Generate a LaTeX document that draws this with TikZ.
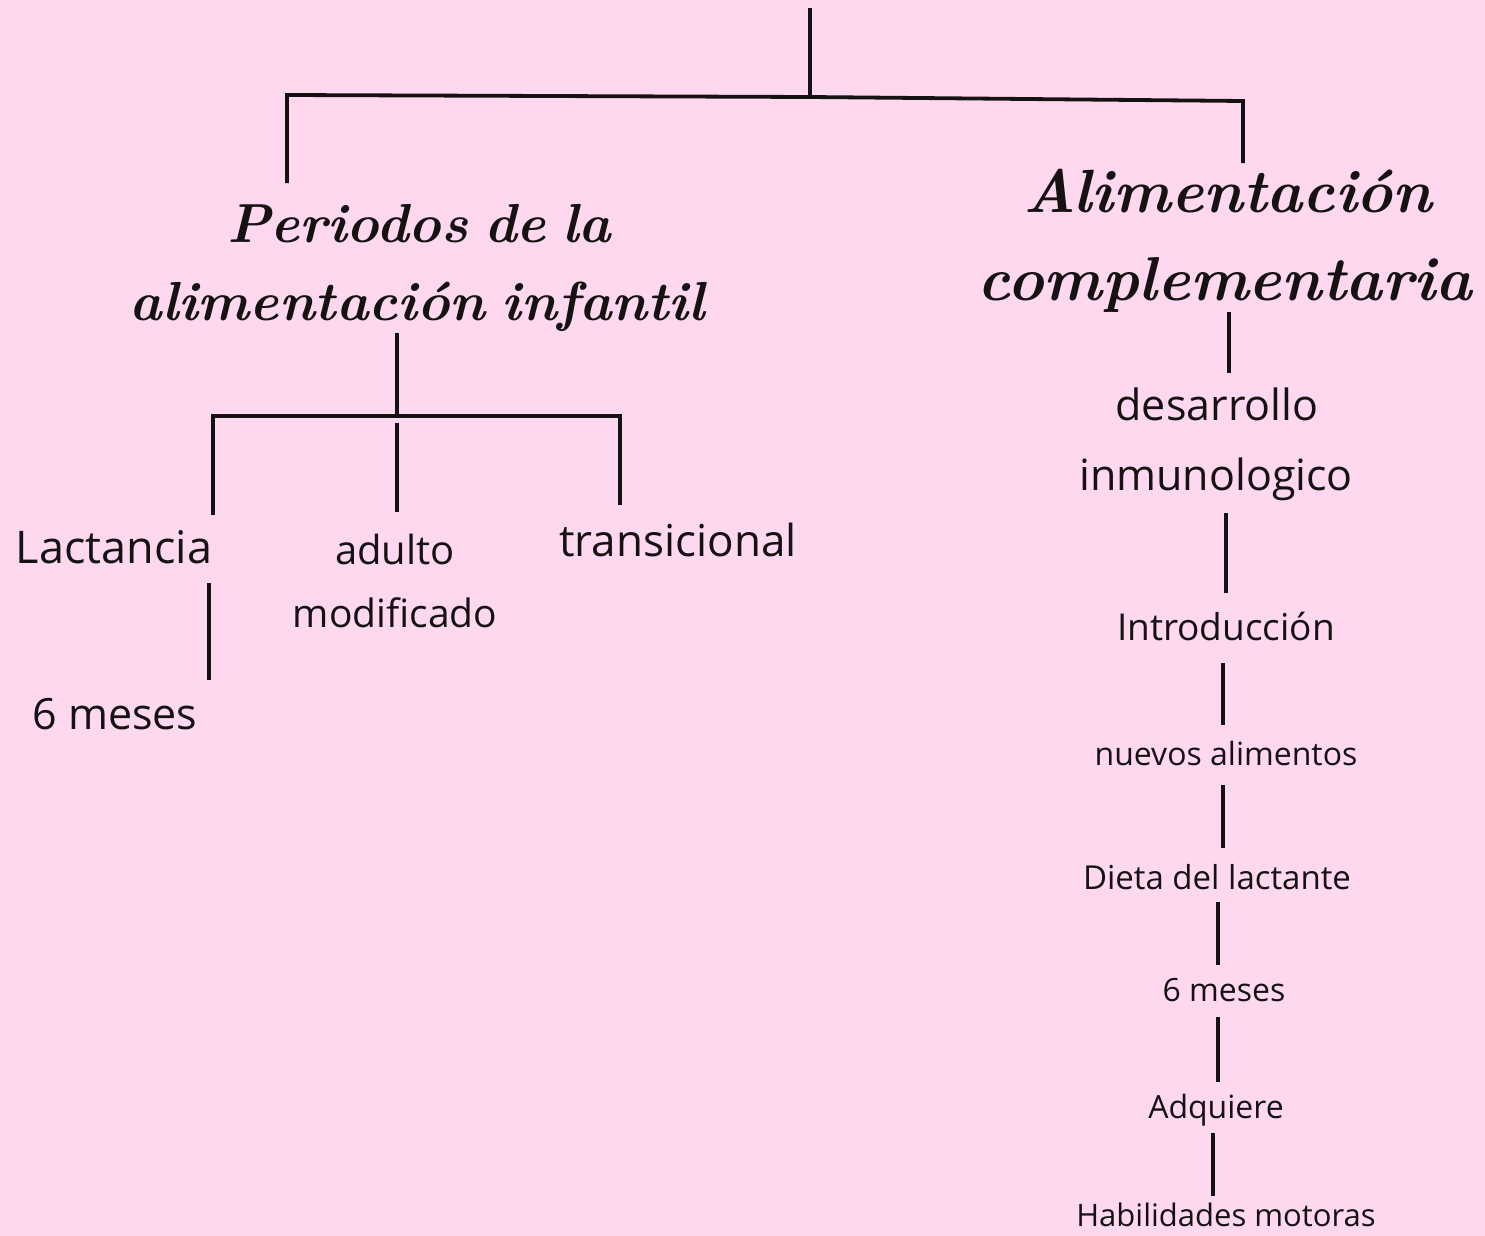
\documentclass[tikz,border=0pt]{standalone}
\usepackage{fontspec}
\newfontfamily\bodyfont{Open Sans}
\definecolor{bgpink}{HTML}{FDD8EE}
\definecolor{ink}{HTML}{161214}
\begin{document}
\begin{tikzpicture}[x=1pt,y=-1pt,
  ln/.style={draw=ink,line width=3.8pt},
  lnr/.style={draw=ink,line width=4.6pt},
  head/.style={anchor=base,inner sep=0pt,text=ink,font=\fontsize{#1}{#1}\selectfont\bfseries\itshape},
  body/.style={anchor=base,inner sep=0pt,text=ink,font=\bodyfont\fontsize{#1}{#1}\selectfont}]
\fill[bgpink] (0,0) rectangle (1485,1236);
\useasboundingbox (0,0) rectangle (1485,1236);
% headings
\node[head=55] (per1) at (419,242) {Periodos\hspace{-0.12em} de\hspace{-0.12em} la};
\node[head=55] (per2) at (417,320) {alimentación\hspace{-0.12em} infantil};
\node[head=61] (ali1) at (1228,212) {Alimentación};
\node[head=62] (ali2) at (1225,300) {complementaria};
% left items
\node[body=45] (lact) at (114,563) {Lactancia};
\node[body=40] (adul) at (395,564) {adulto};
\node[body=39] (modi) at (395,627) {modificado};
\node[body=44] (tran) at (678,556) {transicional};
\node[body=43] (seis1) at (115,729) {6 meses};
% right column
\node[body=43] (desa) at (1217,420) {desarrollo};
\node[body=43] (inmu) at (1216,490) {inmunologico};
\node[body=37] (intr) at (1226,640) {Introducción};
\node[body=32] (nuev) at (1226,765) {nuevos alimentos};
\node[body=33] (diet) at (1217,889) {Dieta del lactante};
\node[body=32] (seis2) at (1224,1001) {6 meses};
\node[body=32] (adqu) at (1216,1118) {Adquiere};
\node[body=31] (habi) at (1226,1226) {Habilidades motoras};
% connector points
\coordinate (top) at (810,8);
\coordinate (mid) at (810,97);
\coordinate (hl) at (287,95);
\coordinate (hr) at (1243,101);
\coordinate (perT) at (287,183);
\coordinate (aliT) at (1243,163);
\coordinate (perB) at (397,333);
\coordinate (subM) at (397,416);
\coordinate (subL) at (213,416);
\coordinate (subR) at (620,416);
\coordinate (lactT) at (213,515);
\coordinate (adulA) at (397,423);
\coordinate (adulT) at (397,512);
\coordinate (tranT) at (620,505);
\coordinate (lactB) at (209,583);
\coordinate (seisT) at (209,680);
\coordinate (r1a) at (1229,312); \coordinate (r1b) at (1229,373);
\coordinate (r2a) at (1226,513); \coordinate (r2b) at (1226,593);
\coordinate (r3a) at (1223,663); \coordinate (r3b) at (1223,725);
\coordinate (r4a) at (1223,785); \coordinate (r4b) at (1223,848);
\coordinate (r5a) at (1218,902); \coordinate (r5b) at (1218,965);
\coordinate (r6a) at (1218,1017); \coordinate (r6b) at (1218,1082);
\coordinate (r7a) at (1213,1133); \coordinate (r7b) at (1213,1196);
% connectors
\draw[ln] (top) -- (mid);
\draw[ln] (perT) -- (hl) -- (mid) -- (hr) -- (aliT);
\draw[ln] (perB) -- (subM);
\draw[ln] (lactT) -- (subL) -- (subR) -- (tranT);
\draw[ln] (adulA) -- (adulT);
\draw[ln] (lactB) -- (seisT);
\draw[lnr] (r1a) -- (r1b);
\draw[lnr] (r2a) -- (r2b);
\draw[lnr] (r3a) -- (r3b);
\draw[lnr] (r4a) -- (r4b);
\draw[lnr] (r5a) -- (r5b);
\draw[lnr] (r6a) -- (r6b);
\draw[lnr] (r7a) -- (r7b);
\end{tikzpicture}
\end{document}
